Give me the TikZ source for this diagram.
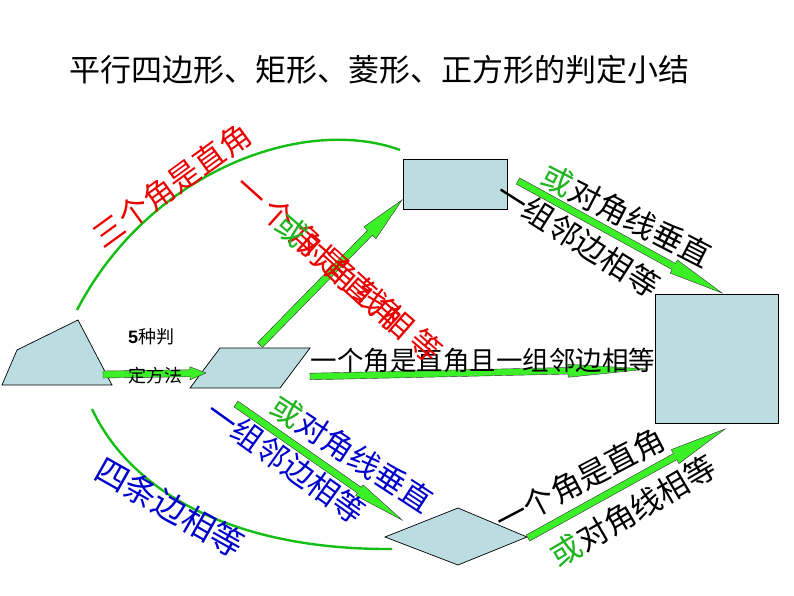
\documentclass[tikz,border=0pt]{standalone}
\usepackage{fontspec}
\setmainfont{Noto Sans CJK SC}
\newfontfamily\libsans{Liberation Sans}
\newfontfamily\spacedcjk[LetterSpace=18]{Noto Sans CJK SC}
\usetikzlibrary{calc}
\definecolor{shapefill}{RGB}{187,221,226}
\definecolor{arrgreen}{RGB}{60,240,40}
\definecolor{arcgreen}{RGB}{20,190,20}
\definecolor{txtred}{RGB}{235,0,0}
\definecolor{txtblue}{RGB}{0,0,205}
\definecolor{orgreen}{RGB}{30,180,30}
\tikzset{
  shapestyle/.style={fill=shapefill, draw=black, line width=0.7pt, line join=miter},
  fatarr/.style={fill=arrgreen, draw=black!80, line width=0.4pt, line join=miter},
  arcline/.style={draw=arcgreen, line width=2.4pt},
  lab/.style={inner sep=0pt, font=\fontsize{31}{31}\selectfont},
  labbig/.style={inner sep=0pt, font=\fontsize{33}{33}\selectfont},
  labh/.style={inner sep=0pt, font=\fontsize{26.5}{26.5}\selectfont},
  labs/.style={inner sep=0pt, font=\fontsize{18}{18}\selectfont},
  labr/.style={inner sep=0pt, font=\spacedcjk\fontsize{31}{31}\selectfont},
}
\newcommand\fatarrow[5]{%
  \path ($(#2)!#5!(#1)$) coordinate (fa-h);
  \filldraw[fatarr] ($(#1)!#3!90:(#2)$) -- ($(fa-h)!#3!90:(#2)$) -- ($(fa-h)!#4!90:(#2)$) -- (#2) -- ($(fa-h)!#4!-90:(#2)$) -- ($(fa-h)!#3!-90:(#2)$) -- ($(#1)!#3!-90:(#2)$) -- cycle;}
\begin{document}
\begin{tikzpicture}[x=1pt,y=-1pt]
\useasboundingbox (0,0) rectangle (794,596);
\fill[white] (0,0) rectangle (794,596);

% title
\node[inner sep=0pt, font=\fontsize{31}{31}\selectfont] (title) at (379,70) {平行四边形、矩形、菱形、正方形的判定小结};

% green arcs
\coordinate (arcTa) at (77,310);
\coordinate (arcTb) at (400,150);
\coordinate (arcBa) at (92,409);
\coordinate (arcBb) at (392,549);
\draw[arcline] (arcTa) .. controls (150,170) and (305,115) .. (arcTb);
\draw[arcline] (arcBa) .. controls (130,490) and (230,550) .. (arcBb);

% shapes
\filldraw[shapestyle] (17,350) -- (78,320) -- (112,385) -- (2,385) -- cycle;
\filldraw[shapestyle] (220,348) -- (310,348) -- (280,388) -- (190,388) -- cycle;
\filldraw[shapestyle] (403,159) rectangle (507,209);
\filldraw[shapestyle] (655,294) rectangle (778,423);
\filldraw[shapestyle] (385,537) -- (458,508) -- (527,537) -- (458,565) -- cycle;

% arrow end points
\coordinate (aS) at (103,374.5);  \coordinate (aE) at (206,373);
\coordinate (bS) at (260,345);    \coordinate (bE) at (402,200);
\coordinate (cS) at (518,181);    \coordinate (cE) at (722,293);
\coordinate (dS) at (310,376.5);  \coordinate (dE) at (648,369);
\coordinate (eS) at (236,404);    \coordinate (eE) at (402,520);
\coordinate (fS) at (528,538);    \coordinate (fE) at (725,429);

\fatarrow{aS}{aE}{3.5pt}{6.5pt}{16pt}
\fatarrow{bS}{bE}{3.5pt}{8.5pt}{46pt}
\fatarrow{cS}{cE}{3.5pt}{7.5pt}{55pt}
\fatarrow{dS}{dE}{3.3pt}{6.5pt}{80pt}
\fatarrow{eS}{eE}{3.5pt}{6.5pt}{52pt}
\fatarrow{fS}{fE}{3.5pt}{8pt}{57pt}

% labels
\node[lab, text=txtred, rotate=36] (t1) at (172,185) {三个角是直角};
\node[lab, rotate=-27.2] (t2) at (627,216) {\textcolor{orgreen}{或}对角线垂直};
\node[lab, rotate=-32.4] (t3) at (578,239) {一组邻边相等};
\node[labh] (t4) at (483,360) {一个角是直角且一组邻边相等};
\node[labs, anchor=west] (t5) at (128,337) {{\libsans\bfseries 5}种判};
\node[labs, anchor=west] (t6) at (128,376) {定方法};
\node[labbig, text=txtblue, rotate=-29.5] (t7) at (170,507) {四条边相等};
\node[lab, text=txtblue, rotate=-35.7] (t8) at (286,462) {一组邻边相等};
\node[lab, text=txtblue, rotate=-33.2] (t9) at (352,454) {\textcolor{orgreen}{或}对角线垂直};
\node[lab, rotate=27.7] (t10) at (580,480) {一个角是直角};
\node[lab, rotate=30.4] (t11) at (633,511) {\textcolor{orgreen}{或}对角线相等};
\node[labr, text=txtred, rotate=-42] (t12) at (320,252) {一个角是直角};
\node[labr, text=txtred, rotate=-41] (t13) at (359,288) {\textcolor{orgreen}{或}对角线相等};
\end{tikzpicture}
\end{document}
